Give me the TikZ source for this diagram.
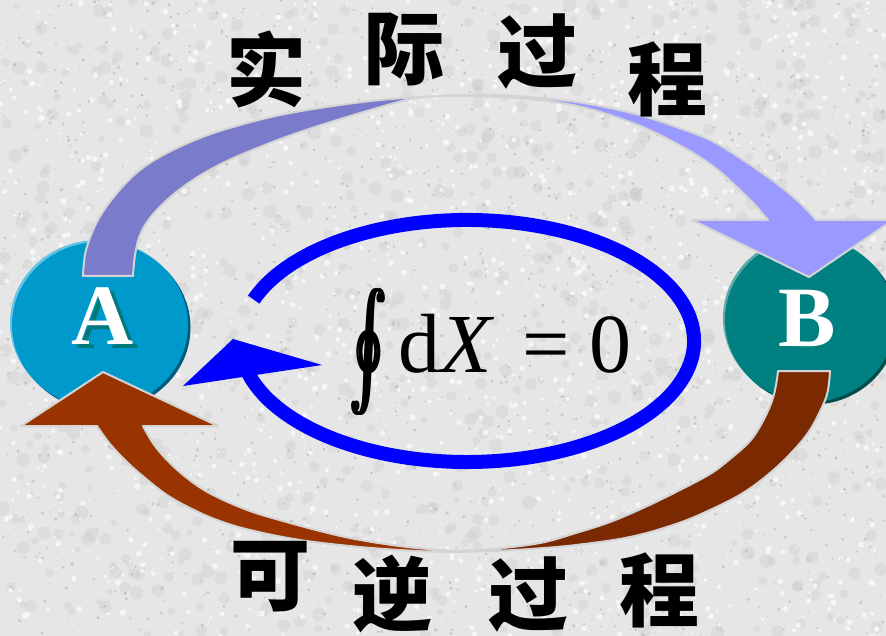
\documentclass[tikz,border=0pt]{standalone}
\usepackage{graphicx}
\usepackage{fontspec}
\setmainfont{Liberation Serif}
\newfontfamily\cjk{Noto Sans CJK SC}
\usetikzlibrary{calc}
\definecolor{bgc}{RGB}{230,230,230}
\definecolor{blobC}{RGB}{200,200,200}
\definecolor{speckD}{RGB}{170,170,170}
\definecolor{speckL}{RGB}{250,250,250}
\definecolor{Afill}{RGB}{0,153,204}
\definecolor{Alight}{RGB}{100,196,228}
\definecolor{Adark}{RGB}{0,92,124}
\definecolor{Ashadow}{RGB}{0,120,120}
\definecolor{Bfill}{RGB}{0,128,128}
\definecolor{Blight}{RGB}{90,170,170}
\definecolor{Bdark}{RGB}{0,76,76}
\definecolor{topL}{RGB}{123,123,204}
\definecolor{topR}{RGB}{153,153,255}
\definecolor{botL}{RGB}{153,51,0}
\definecolor{botR}{RGB}{122,41,0}
\definecolor{rim}{RGB}{212,212,212}
\tikzset{
  band/.style={draw=rim, line width=2pt, line join=round},
  cjkchar/.style={font=\cjk\bfseries\fontsize{80}{80}\selectfont, text=black, inner sep=0pt},
  letter/.style={font=\bfseries\fontsize{86}{86}\selectfont, inner sep=0pt},
  sm/.style={smooth, tension=0.6}
}
\newcommand{\thickoint}{$\textstyle\oint$\llap{$\textstyle\oint$\kern0.2pt}\llap{$\textstyle\oint$\kern0.4pt}\llap{$\textstyle\oint$\kern0.6pt}}
\begin{document}
\begin{tikzpicture}[x=1pt,y=-1pt]
\useasboundingbox (0,0) rectangle (886,636);
\begin{scope}
\clip (0,0) rectangle (886,636);
% background texture
\fill[bgc] (0,0) rectangle (886,636);
\pgfmathsetseed{4242}
\foreach \i in {1,...,900}{
  \pgfmathsetmacro\xx{886*rnd}\pgfmathsetmacro\yy{636*rnd}\pgfmathsetmacro\rr{3+4*rnd}
  \fill[blobC, opacity=0.3] (\xx,\yy) circle[radius=\rr];
}
\foreach \i in {1,...,1500}{
  \pgfmathsetmacro\xx{886*rnd}\pgfmathsetmacro\yy{636*rnd}\pgfmathsetmacro\rr{0.6+1.2*rnd}
  \fill[speckD, opacity=0.5] (\xx,\yy) circle[radius=\rr];
}
\foreach \i in {1,...,1500}{
  \pgfmathsetmacro\xx{886*rnd}\pgfmathsetmacro\yy{636*rnd}\pgfmathsetmacro\rr{0.8+2.2*rnd}
  \fill[speckL, opacity=0.8] (\xx,\yy) circle[radius=\rr];
}
% circle A
\fill[Adark]  (102.5,327.5) ellipse[x radius=88, y radius=83];
\fill[Alight] (98,323) ellipse[x radius=88, y radius=83];
\fill[Afill]  (100,325) ellipse[x radius=88, y radius=83];
% circle B
\fill[Bdark]  (812.5,322.5) ellipse[x radius=85, y radius=82];
\fill[Blight] (808,318) ellipse[x radius=85, y radius=82];
\fill[Bfill]  (810,320) ellipse[x radius=85, y radius=82];
% letters
\node[letter, text=white] (Alab) at (103,318) {\rlap{\hspace{5pt}\raisebox{-4pt}{\color{Ashadow}A}}A};
\node[letter, text=white] (Blab) at (807,318) {B};
% top arrow, left part
\filldraw[band, fill=topL] (83,276) -- plot[sm] coordinates {(83,276) (86,250) (98,220) (117,193) (140,170) (167,153) (200,138) (233,127) (280,115) (333,106) (380,100) (420,97) (460,95)}
  -- plot[sm] coordinates {(460,96) (417,98) (367,111) (300,132) (250,151) (217,166) (190,182) (167,200) (150,218) (140,235) (135,255) (133,276)} -- cycle;
% top arrow, right part with head
\filldraw[band, fill=topR] (460,95) -- plot[sm] coordinates {(460,95) (500,95) (540,98) (577,102) (610,108) (643,116) (676,127) (710,140) (743,160) (776,183) (800,203) (816,220)}
  -- (893,220) -- (809,277) -- (692,220) -- (768,220)
  -- plot[sm] coordinates {(768,220) (755,205) (743,193) (725,176) (710,164) (690,151) (660,135) (643,127) (610,115) (577,106) (540,100) (500,97) (460,96)} -- cycle;
% bottom arrow, right part
\filldraw[band, fill=botR] (830,371) -- plot[sm] coordinates {(830,371) (828,390) (823,405) (810,430) (793,451) (770,473) (743,493) (710,510) (676,524) (630,537) (576,545) (530,549) (493,551) (455,552)}
  -- plot[sm] coordinates {(455,551) (493,549) (540,543) (576,533) (610,522) (643,508) (676,492) (710,474) (730,459) (750,441) (763,421) (772,401) (776,385) (778,371)} -- cycle;
% bottom arrow, left part with head
\filldraw[band, fill=botL] (455,552) -- plot[sm] coordinates {(455,552) (417,551) (360,547) (300,540) (250,530) (217,520) (190,508) (167,495) (145,478) (127,462) (110,444) (97,426)}
  -- (21,426) -- (103,372) -- (218,426) -- (143,426)
  -- plot[sm] coordinates {(143,426) (155,446) (173,466) (195,484) (217,497) (250,511) (283,521) (320,531) (350,538) (385,544) (417,548) (455,551)} -- cycle;
% blue cycle
\coordinate (ringstart) at (253.7,299.6);
\draw[blue, line width=14pt] (ringstart) arc[start angle=-160, end angle=168, x radius=227, y radius=121];
\fill[blue] (183,386) -- (233,339) -- (322,365) -- cycle;
% formula
\node[inner sep=0pt, anchor=north west] (eqint) at (352,288) {\resizebox*{36pt}{127pt}{\thickoint}};
\node[inner sep=0pt, anchor=base west] (eq) at (398,372) {\fontsize{84}{84}\selectfont d\textit{X}\hspace{28pt}=\hspace{20pt}0};
% labels
\node[cjkchar] (t1) at (266,69) {实};
\node[cjkchar] (t2) at (404,49) {际};
\node[cjkchar] (t3) at (537,52) {过};
\node[cjkchar] (t4) at (667,79) {程};
\node[cjkchar] (b1) at (270,577) {可};
\node[cjkchar] (b2) at (392,594) {逆};
\node[cjkchar] (b3) at (528,595) {过};
\node[cjkchar] (b4) at (659,590) {程};
\end{scope}
\end{tikzpicture}
\end{document}
